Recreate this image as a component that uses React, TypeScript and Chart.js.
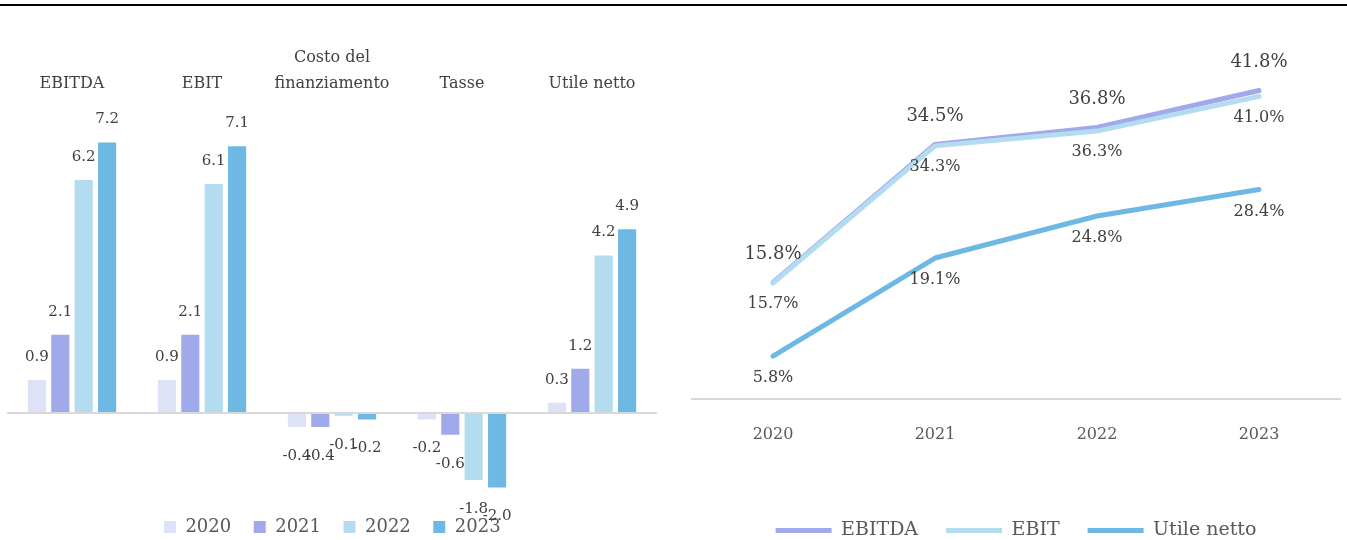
import React, { useEffect, useRef } from "react";
import { Chart, registerables } from "chart.js";

Chart.register(...registerables);

const barCategories: (string | string[])[] = ["EBITDA", "EBIT", ["Costo del", "finanziamento"], "Tasse", "Utile netto"];
const barYears = ["2020", "2021", "2022", "2023"];
const bar2020 = [0.9, 0.9, -0.4, -0.2, 0.3];
const bar2021 = [2.1, 2.1, -0.4, -0.6, 1.2];
const bar2022 = [6.2, 6.1, -0.1, -1.8, 4.2];
const bar2023 = [7.2, 7.1, -0.2, -2.0, 4.9];
const barColors = ["#dde2f6", "#a0a9ea", "#b4dcf1", "#6eb8e4"];

const lineYears = ["2020", "2021", "2022", "2023"];
const marginEbitda = [15.8, 34.5, 36.8, 41.8];
const marginEbit = [15.7, 34.3, 36.3, 41.0];
const marginUtile = [5.8, 19.1, 24.8, 28.4];
const lineNames = ["EBITDA", "EBIT", "Utile netto"];
const lineColors = ["#a0a9ea", "#b4dcf1", "#6eb8e4"];

const FONT = "'DejaVu Serif', serif";
const TEXT = "#404040";

const barLabelPlugin = {
  id: "barLabels",
  afterDatasetsDraw(chart: any) {
    const ctx = chart.ctx;
    ctx.save();
    ctx.font = `15px ${FONT}`;
    ctx.fillStyle = TEXT;
    ctx.textAlign = "center";
    ctx.textBaseline = "middle";
    chart.data.datasets.forEach((ds: any, i: number) => {
      const meta = chart.getDatasetMeta(i);
      meta.data.forEach((el: any, j: number) => {
        const v = ds.data[j];
        const y = v >= 0 ? el.y - 22 : el.y + 28;
        ctx.fillText(v.toFixed(1), el.x, y);
      });
    });
    ctx.restore();
  },
};

const lineLabelCfg = [
  { dy: -28, size: 18 },
  { dy: 21, size: 16 },
  { dy: 22, size: 16 },
];

const lineLabelPlugin = {
  id: "lineLabels",
  afterDatasetsDraw(chart: any) {
    const ctx = chart.ctx;
    ctx.save();
    ctx.fillStyle = TEXT;
    ctx.textAlign = "center";
    ctx.textBaseline = "middle";
    chart.data.datasets.forEach((ds: any, i: number) => {
      const meta = chart.getDatasetMeta(i);
      const cfg = lineLabelCfg[i];
      ctx.font = `${cfg.size}px ${FONT}`;
      meta.data.forEach((el: any, j: number) => {
        ctx.fillText(ds.data[j].toFixed(1) + "%", el.x, el.y + cfg.dy);
      });
    });
    ctx.restore();
  },
};

function BarChart() {
  const ref = useRef<HTMLCanvasElement>(null);
  useEffect(() => {
    const data = [bar2020, bar2021, bar2022, bar2023];
    const chart = new Chart(ref.current!, {
      type: "bar",
      data: {
        labels: barCategories,
        datasets: barYears.map((y, i) => ({
          label: y,
          data: data[i],
          backgroundColor: barColors[i],
          borderColor: "#ffffff",
          borderWidth: 1,
          barPercentage: 0.86,
          categoryPercentage: 0.72,
        })),
      },
      options: {
        animation: false,
        responsive: false,
        maintainAspectRatio: false,
        layout: { padding: { left: 7, right: 23, top: 30, bottom: 0 } },
        scales: {
          x: {
            position: "top",
            grid: { display: false, drawTicks: false },
            border: { display: false },
            ticks: {
              color: TEXT,
              font: { family: FONT, size: 16, lineHeight: 1.6 },
              padding: 15,
              maxRotation: 0,
              autoSkip: false,
            },
          },
          y: {
            display: true,
            min: -2.2,
            max: 8,
            ticks: { display: false },
            border: { display: false },
            grid: {
              drawTicks: false,
              color: (c: any) => (c.tick && c.tick.value === 0 ? "#d9d9d9" : "rgba(0,0,0,0)"),
              lineWidth: 2,
            },
          },
        },
        plugins: {
          legend: {
            position: "bottom",
            labels: {
              color: "#595959",
              font: { family: FONT, size: 18 },
              boxWidth: 13,
              boxHeight: 13,
              padding: 22,
            },
          },
          tooltip: { enabled: false },
        },
      },
      plugins: [barLabelPlugin],
    });
    return () => chart.destroy();
  }, []);
  return <canvas ref={ref} width={680} height={546} style={{ position: "absolute", left: 0, top: 0, width: 680, height: 546 }} />;
}

function LineChart() {
  const ref = useRef<HTMLCanvasElement>(null);
  useEffect(() => {
    const data = [marginEbitda, marginEbit, marginUtile];
    const orders = [1, 0, 2];
    const chart = new Chart(ref.current!, {
      type: "line",
      data: {
        labels: lineYears,
        datasets: lineNames.map((n, i) => ({
          label: n,
          data: data[i],
          borderColor: lineColors[i],
          backgroundColor: lineColors[i],
          borderWidth: 5,
          borderCapStyle: "round",
          borderJoinStyle: "round",
          pointRadius: 0,
          tension: 0,
          order: orders[i],
        })),
      },
      options: {
        animation: false,
        responsive: false,
        maintainAspectRatio: false,
        layout: { padding: { left: 12, right: 7, top: 30, bottom: 0 } },
        scales: {
          x: {
            offset: true,
            grid: { display: false, drawTicks: false },
            border: { display: true, color: "#d9d9d9", width: 2 },
            ticks: { color: "#595959", font: { family: FONT, size: 16 }, padding: 26 },
            afterFit: (s: any) => {
              s.height = 94;
            },
          },
          y: {
            display: false,
            min: 0,
            max: 50,
          },
        },
        plugins: {
          legend: {
            position: "bottom",
            labels: {
              color: "#595959",
              font: { family: FONT, size: 19 },
              usePointStyle: true,
              pointStyle: "line",
              pointStyleWidth: 56,
              boxHeight: 5,
              padding: 28,
              sort: (a: any, b: any) => a.datasetIndex - b.datasetIndex,
            },
          },
          tooltip: { enabled: false },
        },
      },
      plugins: [lineLabelPlugin],
    });
    return () => chart.destroy();
  }, []);
  return <canvas ref={ref} width={667} height={550} style={{ position: "absolute", left: 680, top: 0, width: 667, height: 550 }} />;
}

export default function App() {
  return (
    <div style={{ position: "absolute", left: 0, top: 0, width: 1347, height: 540, overflow: "hidden", background: "#ffffff" }}>
      <div style={{ position: "absolute", left: 0, top: 4, width: 1347, height: 2, background: "#000000" }} />
      <BarChart />
      <LineChart />
    </div>
  );
}
